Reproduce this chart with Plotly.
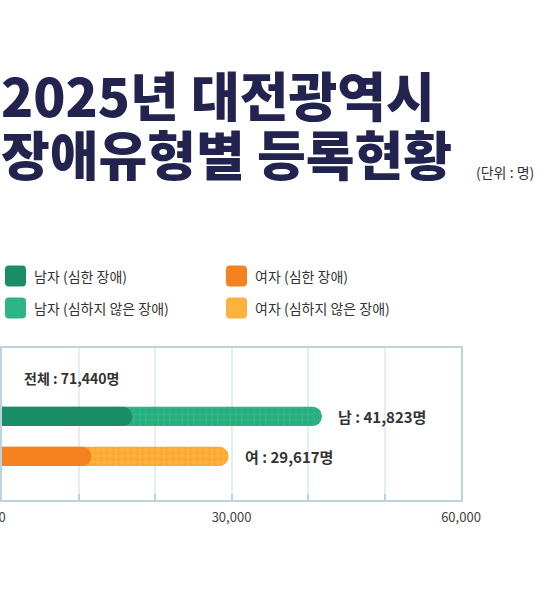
import plotly.graph_objects as go

# values
groups = ["여", "남"]
totals = [29617, 41823]          # 심한 + 심하지 않은
severe = [11700, 17000]          # 심한 장애 (estimated)
severe_colors = ["#F5821F", "#1A8C66"]
mild_colors = ["#FFB13D", "#2DB585"]
mild_dots = ["#F6A02C", "#22A374"]
legend_names = ["남자 (심한 장애)", "여자 (심한 장애)",
                "남자 (심하지 않은 장애)", "여자 (심하지 않은 장애)"]
x_ticks = [0, 30000, 60000]

FONT = "Noto Sans CJK KR"
TEXT = "#333333"

# plot box in pixels: x 2..461, y 348..500
PW, PH = 459, 152


def px_x(x):
    return (x - 2) / PW


def px_y(y):
    return (500 - y) / PH


# rounded square (pixels, around its anchor) for the legend swatches
SWATCH = ("M -6.5,-10.5 L 6.5,-10.5 Q 10.5,-10.5 10.5,-6.5 L 10.5,6.5 "
          "Q 10.5,10.5 6.5,10.5 L -6.5,10.5 Q -10.5,10.5 -10.5,6.5 "
          "L -10.5,-6.5 Q -10.5,-10.5 -6.5,-10.5 Z")

fig = go.Figure()

# full bar (patterned part shows the 심하지 않은 장애)
for i, g in enumerate(groups):
    fig.add_trace(go.Bar(
        y=[g], x=[totals[i]], orientation="h", width=0.48,
        marker=dict(color=mild_colors[i], cornerradius=10,
                    line=dict(width=0),
                    pattern=dict(shape=".", bgcolor=mild_colors[i],
                                 fgcolor=mild_dots[i], size=6, solidity=0.5)),
        showlegend=False, hoverinfo="x"))

# solid part on top (심한 장애), on its own overlaid axis so its end is rounded too
for i, g in enumerate(groups):
    fig.add_trace(go.Bar(
        y=[g], x=[severe[i]], orientation="h", width=0.48, yaxis="y2",
        marker=dict(color=severe_colors[i], cornerradius=10, line=dict(width=0)),
        showlegend=False, hoverinfo="x"))

# value labels
for i, g in enumerate(groups):
    fig.add_annotation(x=totals[i], y=g, text=f"{g} : {totals[i]:,}명",
                       xanchor="left", xshift=14, showarrow=False,
                       font=dict(family=FONT, size=15, color=TEXT, weight="bold"))
fig.add_annotation(x=0, y="전체", text=f"전체 : {sum(totals):,}명",
                   xanchor="left", xshift=20, yshift=-2, showarrow=False,
                   font=dict(family=FONT, size=14, color=TEXT, weight="bold"))

# title
fig.add_annotation(xref="paper", yref="paper", x=px_x(-1), y=px_y(94),
                   xanchor="left", yanchor="middle", showarrow=False,
                   text="2025년 대전광역시",
                   font=dict(family=FONT, size=53, color="#22244F", weight=900))
fig.add_annotation(xref="paper", yref="paper", x=px_x(-1), y=px_y(153),
                   xanchor="left", yanchor="middle", showarrow=False,
                   text="장애유형별 등록현황",
                   font=dict(family=FONT, size=53, color="#22244F", weight=900))
fig.add_annotation(xref="paper", yref="paper", x=px_x(474), y=px_y(172),
                   xanchor="left", yanchor="middle", showarrow=False,
                   text="(단위 : 명)",
                   font=dict(family=FONT, size=14, color=TEXT))

# custom legend
sw_colors = [severe_colors[1], severe_colors[0], mild_colors[1], mild_colors[0]]
col_x = [5, 226]
row_y = [276, 308]
for k, name in enumerate(legend_names):
    cx = col_x[k % 2]
    cy = row_y[k // 2]
    fig.add_shape(type="path", xref="paper", yref="paper",
                  xsizemode="pixel", ysizemode="pixel",
                  xanchor=px_x(cx + 10.5), yanchor=px_y(cy), path=SWATCH,
                  fillcolor=sw_colors[k], line=dict(width=0))
    fig.add_annotation(xref="paper", yref="paper", x=px_x(cx + 27),
                       y=px_y(cy), xanchor="left", yanchor="middle",
                       showarrow=False, text=name,
                       font=dict(family=FONT, size=14, color=TEXT))

fig.update_layout(
    width=553, height=590,
    margin=dict(l=2, r=92, t=348, b=90),
    barmode="overlay",
    paper_bgcolor="white", plot_bgcolor="white",
    font=dict(family=FONT, color=TEXT),
    showlegend=False,
    yaxis2=dict(overlaying="y", type="category", categoryorder="array",
                categoryarray=["여", "남", "전체"], range=[-1.09, 2.71],
                visible=False, fixedrange=True),
)
fig.update_xaxes(
    range=[0, 60000], tickvals=x_ticks, ticktext=[f"{v:,}" for v in x_ticks],
    tickfont=dict(size=13, color="#444444"), ticklabeloverflow="allow",
    ticklabelstandoff=4,
    showgrid=True, gridcolor="#E2EEF2", gridwidth=2,
    ticks="inside", ticklen=6, tickcolor="#B8D4DC", tickwidth=2,
    minor=dict(dtick=10000, showgrid=True, gridcolor="#E2EEF2", gridwidth=2,
               ticks="inside", ticklen=6, tickcolor="#B8D4DC", tickwidth=2),
    showline=True, mirror=True, linecolor="#B8D4DC", linewidth=2,
    zeroline=False, automargin=False, fixedrange=True,
)
fig.update_layout(yaxis=dict(
    type="category", categoryorder="array", categoryarray=["여", "남", "전체"],
    range=[-1.09, 2.71], showticklabels=False, showgrid=False,
    showline=True, mirror=True, linecolor="#B8D4DC", linewidth=2,
    automargin=False, fixedrange=True,
))

fig.write_html("out.html", config={"displayModeBar": False},
               post_script="document.body.style.margin='0';")
